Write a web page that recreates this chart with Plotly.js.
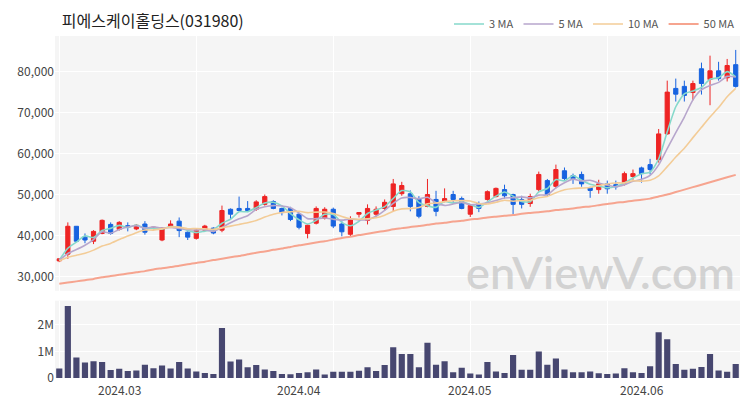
<!DOCTYPE html>
<html><head><meta charset="utf-8">
<script src="https://cdn.plot.ly/plotly-3.0.1.min.js"></script>
<style>html,body{margin:0;padding:0;background:#fff}#chart{width:750px;height:400px}</style>
</head><body><div id="chart"></div>
<script>
const dates = [
 '2024-02-21','2024-02-22','2024-02-23','2024-02-26','2024-02-27','2024-02-28','2024-02-29',
 '2024-03-04','2024-03-05','2024-03-06','2024-03-07','2024-03-08','2024-03-11','2024-03-12','2024-03-13','2024-03-14','2024-03-15',
 '2024-03-18','2024-03-19','2024-03-20','2024-03-21','2024-03-22','2024-03-25','2024-03-26','2024-03-27','2024-03-28','2024-03-29',
 '2024-04-01','2024-04-02','2024-04-03','2024-04-04','2024-04-05','2024-04-08','2024-04-09','2024-04-11','2024-04-12',
 '2024-04-15','2024-04-16','2024-04-17','2024-04-18','2024-04-19','2024-04-22','2024-04-23','2024-04-24','2024-04-25','2024-04-26',
 '2024-04-29','2024-04-30',
 '2024-05-02','2024-05-03','2024-05-07','2024-05-08','2024-05-09','2024-05-10','2024-05-13','2024-05-14','2024-05-16','2024-05-17',
 '2024-05-20','2024-05-21','2024-05-22','2024-05-23','2024-05-24','2024-05-27','2024-05-28','2024-05-29','2024-05-30','2024-05-31',
 '2024-06-03','2024-06-04','2024-06-05','2024-06-07','2024-06-10','2024-06-11','2024-06-12','2024-06-13','2024-06-14',
 '2024-06-17','2024-06-18','2024-06-19'
];
const openP = [33800,35450,42250,39600,38600,40500,42700,41500,42400,41600,
 42800,41800,38900,42100,43500,40800,39300,41300,41800,41300,
 46400,46600,46600,46400,47600,48300,46600,46600,45200,40500,
 43000,44200,46400,42800,40300,45200,43700,45200,46600,47100,
 50200,50200,49000,47100,48800,48300,50000,49000,45200,47800,
 48800,49500,51200,50000,48800,47800,51200,53400,52000,55800,
 54600,54900,51700,51200,52600,52400,52600,54400,56500,57300,
 58500,64800,75900,76400,74900,80700,78100,80200,78500,81700];
const highP = [34500,43200,42300,40500,41300,43900,43200,43500,43200,42800,
 43500,42300,42000,43700,44400,41000,41500,42600,42000,47300,
 46600,49500,48400,48600,50000,48600,46800,47000,45500,42700,
 47100,46900,46800,43500,44700,45700,47600,47100,48800,53800,
 53100,51000,49600,53800,50900,51500,50900,49500,47600,48300,
 51000,51700,52400,50200,49700,50200,55600,53800,57300,56600,
 55100,55600,51900,53600,53400,53400,55600,56100,56800,58700,
 66000,77800,78300,77800,77800,82200,83900,82400,83100,85300];
const lowP = [33500,34300,38400,38100,37900,40300,40200,41200,41000,41300,
 40200,41500,38600,41800,39600,38900,39000,41000,40300,40800,
 43900,45900,45700,46000,47300,46400,44900,43500,41500,39300,
 42700,43900,41800,39800,39800,44400,42700,44400,46000,45900,
 49700,45900,44200,46900,44700,48100,47800,46400,44500,45700,
 48500,49300,49000,45200,46600,47000,50700,49500,51500,53300,
 52600,51900,49200,50200,50200,51200,52200,53600,52900,54900,
 57800,64600,72700,72700,73000,74400,71800,77800,77600,76100];
const closeP = [34300,42250,38600,38900,41000,43700,40500,43200,42000,42500,
 40800,42000,41800,42800,41200,39600,41300,42300,40600,46100,
 45200,46100,46100,48200,49500,46600,45600,43900,42000,42500,
 46600,46400,42300,40900,43900,45600,46600,46400,48100,52600,
 52200,47100,44700,50000,45900,49000,48800,46600,47300,46600,
 50700,51500,49700,47600,47600,49500,54900,50000,56100,53900,
 53900,52600,51000,52600,51400,51900,55100,55100,55100,56100,
 64800,75000,74500,74200,77100,77100,80200,78300,81500,76400];
const volume = [360000,2700000,770000,580000,630000,600000,300000,350000,260000,280000,
 500000,370000,470000,360000,600000,360000,240000,190000,150000,1880000,
 620000,690000,400000,490000,320000,260000,150000,140000,190000,220000,
 320000,130000,230000,230000,230000,270000,400000,260000,490000,1150000,
 900000,900000,400000,1320000,500000,630000,220000,380000,170000,130000,
 600000,240000,190000,860000,310000,310000,990000,500000,730000,320000,
 220000,220000,240000,180000,150000,170000,370000,220000,190000,440000,
 1720000,1450000,530000,310000,350000,410000,900000,280000,230000,530000];
// closes before the visible range, estimated from where the short MA lines start
const priorCloses = [33300,33600,33900,33500,33700,34000,33800,33600,34100];
// 50-day MA
const ma50 = [28200,28500,28800,29100,29400,29800,30100,30400,30700,31000,
 31300,31700,32000,32300,32600,33000,33300,33600,34000,34300,
 34700,35000,35400,35800,36100,36500,36800,37200,37600,37900,
 38300,38600,39000,39400,39700,40100,40400,40800,41100,41500,
 41800,42100,42300,42600,42900,43100,43400,43600,43900,44100,
 44400,44600,44800,45000,45300,45500,45700,45900,46200,46400,
 46600,46900,47100,47400,47700,48000,48200,48500,48700,49000,
 49500,50000,50600,51200,51800,52400,53000,53600,54200,54800];
const monthLabels = ['2024.03','2024.04','2024.05','2024.06'];
const monthLabelDates = ['2024-03-04','2024-04-02','2024-05-02','2024-06-03'];
const gridDates = [dates[0],dates[16],dates[32],dates[48],dates[64]];
const maNames = ['3 MA','5 MA','10 MA','50 MA'];
const maColors = ['#86d9cb','#b7a6cc','#f3cc97','#f6a48f'];

function rollingMean(n){
  const all = priorCloses.concat(closeP);
  const off = priorCloses.length;
  return closeP.map((_,i)=>{
    const end = i+off; const start = Math.max(0,end-n+1);
    let s=0; for(let k=start;k<=end;k++) s+=all[k];
    return s/(end-start+1);
  });
}
const mas = [rollingMean(3), rollingMean(5), rollingMean(10), ma50];

const traces = [];
traces.push({type:'candlestick', x:dates, open:openP, high:highP, low:lowP, close:closeP,
  xaxis:'x', yaxis:'y', showlegend:false, whiskerwidth:0, hoverinfo:'skip',
  increasing:{line:{color:'#ee2424',width:1}, fillcolor:'#ee2424'},
  decreasing:{line:{color:'#1763e0',width:1}, fillcolor:'#1763e0'}});
for(let m=0;m<4;m++){
  traces.push({type:'scatter', mode:'lines', x:dates, y:mas[m], name:maNames[m],
    xaxis:'x', yaxis:'y', line:{color:maColors[m], width:m===3?2:1.6, shape:'spline', smoothing:0.6},
    hoverinfo:'skip'});
}
traces.push({type:'bar', x:dates, y:volume, xaxis:'x2', yaxis:'y2', showlegend:false,
  marker:{color:'#474770'}, hoverinfo:'skip'});

const annotations = monthLabels.map((t,i)=>({text:t, x:monthLabelDates[i], xref:'x2', y:0, yref:'paper',
  yanchor:'top', yshift:-1, showarrow:false, font:{family:'Noto Sans CJK KR, Noto Sans, sans-serif', size:12, color:'#444'}}));
annotations.push({text:'enViewV.com', xref:'paper', yref:'paper', x:0.995, y:0.31, xanchor:'right', yanchor:'middle',
  showarrow:false, font:{family:'Lato, Noto Sans, sans-serif', size:45, weight:600, color:'rgba(175,175,175,0.5)'}});

const axCommon = {type:'category', showticklabels:false, tickvals:gridDates, showgrid:true, gridcolor:'#ffffff', gridwidth:1,
  zeroline:false, showline:false, ticks:'', range:[-0.5, dates.length-0.5], fixedrange:true};
const layout = {
  width:750, height:400,
  margin:{l:55, r:10, t:33, b:22},
  paper_bgcolor:'#ffffff', plot_bgcolor:'#f5f5f5',
  font:{family:'Noto Sans CJK KR, Noto Sans, sans-serif', color:'#444'},
  title:{text:'피에스케이홀딩스(031980)', x:0.01, xref:'paper', xanchor:'left', y:0.947, yref:'container', yanchor:'middle',
    font:{family:'Noto Sans CJK KR, sans-serif', size:16, color:'#222'}},
  showlegend:true,
  legend:{orientation:'h', x:1, xanchor:'right', y:1.035, yanchor:'middle', font:{size:11, color:'#555'},
    bgcolor:'rgba(0,0,0,0)', itemwidth:30, tracegroupgap:0},
  xaxis:Object.assign({anchor:'y', domain:[0,1], rangeslider:{visible:false}}, axCommon),
  xaxis2:Object.assign({anchor:'y2', domain:[0,1]}, axCommon),
  yaxis:{domain:[0.255,1], range:[26500,88700], tickvals:[30000,40000,50000,60000,70000,80000], tickformat:',',
    gridcolor:'#ffffff', zeroline:false, showline:false, ticks:'', tickfont:{size:12, color:'#444'}, fixedrange:true},
  yaxis2:{domain:[0,0.226], range:[0,2900000], tickvals:[0,1000000,2000000], ticktext:['0','1M','2M'],
    gridcolor:'#ffffff', zeroline:false, showline:false, ticks:'', tickfont:{size:12, color:'#444'}, fixedrange:true},
  bargap:0.28,
  annotations:annotations
};
Plotly.newPlot('chart', traces, layout, {displayModeBar:false, staticPlot:true});
</script></body></html>
